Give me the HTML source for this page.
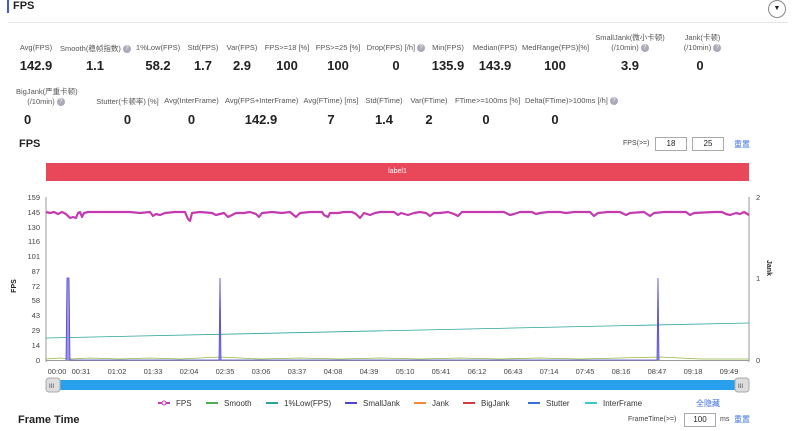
<!DOCTYPE html>
<html><head><meta charset="utf-8"><style>
body{margin:0;width:800px;height:431px;background:#fff;font-family:"Liberation Sans","Noto Sans CJK SC",sans-serif;position:relative;overflow:hidden;color:#222}
.a{position:absolute;white-space:nowrap}
.l{font-size:7.5px;color:#555;text-align:center}
.v{font-size:13px;font-weight:bold;color:#222;text-align:center}
.q{display:inline-block;width:8px;height:8px;border-radius:50%;background:#aab;color:#fff;font-size:6px;line-height:8px;text-align:center;vertical-align:middle}
.box{position:absolute;border:1px solid #aaa;height:12px;font-size:8px;text-align:center;line-height:12px}
</style></head><body>
<div class="a" style="left:7px;top:0;width:2px;height:13px;background:#3b5bdb"></div>
<div class="a" style="left:13px;top:0;font-size:11px;font-weight:bold">FPS</div>
<div class="a" style="left:8px;top:22px;width:780px;height:1px;background:#e5e5e5"></div>
<div class="a" style="left:768px;top:0;width:16px;height:16px;border:1px solid #888;border-radius:50%;font-size:7px;text-align:center;line-height:16px">▼</div>

<div class="a l" style="left:10px;top:43px;width:52px">Avg(FPS)</div><div class="a v" style="left:10px;top:58px;width:52px">142.9</div>
<div class="a l" style="left:60px;top:43px;width:70px">Smooth(稳帧指数) <span class="q">?</span></div><div class="a v" style="left:70px;top:58px;width:50px">1.1</div>
<div class="a l" style="left:133px;top:43px;width:50px">1%Low(FPS)</div><div class="a v" style="left:133px;top:58px;width:50px">58.2</div>
<div class="a l" style="left:183px;top:43px;width:40px">Std(FPS)</div><div class="a v" style="left:183px;top:58px;width:40px">1.7</div>
<div class="a l" style="left:222px;top:43px;width:40px">Var(FPS)</div><div class="a v" style="left:222px;top:58px;width:40px">2.9</div>
<div class="a l" style="left:262px;top:43px;width:50px">FPS&gt;=18 [%]</div><div class="a v" style="left:262px;top:58px;width:50px">100</div>
<div class="a l" style="left:313px;top:43px;width:50px">FPS&gt;=25 [%]</div><div class="a v" style="left:313px;top:58px;width:50px">100</div>
<div class="a l" style="left:366px;top:43px;width:60px">Drop(FPS) [/h] <span class="q">?</span></div><div class="a v" style="left:366px;top:58px;width:60px">0</div>
<div class="a l" style="left:428px;top:43px;width:40px">Min(FPS)</div><div class="a v" style="left:428px;top:58px;width:40px">135.9</div>
<div class="a l" style="left:470px;top:43px;width:50px">Median(FPS)</div><div class="a v" style="left:470px;top:58px;width:50px">143.9</div>
<div class="a l" style="left:522px;top:43px;width:66px">MedRange(FPS)[%]</div><div class="a v" style="left:522px;top:58px;width:66px">100</div>
<div class="a l" style="left:590px;top:33px;width:80px;line-height:10px">SmallJank(微小卡顿)<br>(/10min) <span class="q">?</span></div><div class="a v" style="left:590px;top:58px;width:50px;margin-left:15px">3.9</div>
<div class="a l" style="left:670px;top:33px;width:65px;line-height:10px">Jank(卡顿)<br>(/10min) <span class="q">?</span></div><div class="a v" style="left:670px;top:58px;width:60px">0</div>

<div class="a l" style="left:16px;top:87px;width:60px;line-height:10px;text-align:center">BigJank(严重卡顿)<br>(/10min) <span class="q">?</span></div><div class="a v" style="left:24px;top:112px;width:60px;text-align:left">0</div>
<div class="a l" style="left:95px;top:96px;width:65px">Stutter(卡顿率) [%]</div><div class="a v" style="left:95px;top:112px;width:65px">0</div>
<div class="a l" style="left:163px;top:96px;width:57px">Avg(InterFrame)</div><div class="a v" style="left:163px;top:112px;width:57px">0</div>
<div class="a l" style="left:225px;top:96px;width:72px">Avg(FPS+InterFrame)</div><div class="a v" style="left:225px;top:112px;width:72px">142.9</div>
<div class="a l" style="left:302px;top:96px;width:58px">Avg(FTime) [ms]</div><div class="a v" style="left:302px;top:112px;width:58px">7</div>
<div class="a l" style="left:363px;top:96px;width:42px">Std(FTime)</div><div class="a v" style="left:363px;top:112px;width:42px">1.4</div>
<div class="a l" style="left:408px;top:96px;width:42px">Var(FTime)</div><div class="a v" style="left:408px;top:112px;width:42px">2</div>
<div class="a l" style="left:455px;top:96px;width:62px">FTime&gt;=100ms [%]</div><div class="a v" style="left:455px;top:112px;width:62px">0</div>
<div class="a l" style="left:525px;top:96px;width:90px">Delta(FTime)&gt;100ms [/h] <span class="q">?</span></div><div class="a v" style="left:525px;top:112px;width:90px;margin-left:-15px">0</div>

<div class="a" style="left:19px;top:138px;font-size:11px;font-weight:bold">FPS</div>
<div class="a" style="left:623px;top:140px;font-size:7px;color:#444">FPS(&gt;=)</div>
<div class="box" style="left:655px;top:137px;width:30px">18</div>
<div class="box" style="left:692px;top:137px;width:30px">25</div>
<div class="a" style="left:734px;top:139px;font-size:8px;color:#3b6fe0">重置</div>
<div class="a" style="left:46px;top:163px;width:703px;height:18px;background:#e8485a;color:#fff;font-size:7px;text-align:center;line-height:18px">label1</div>

<svg class="a" style="left:0;top:0" width="800" height="431" font-family="Liberation Sans" font-size="7.5" fill="#444">
<g stroke="#999" stroke-width="1">
<line x1="46" y1="197" x2="46" y2="362"/><line x1="749" y1="197" x2="749" y2="362"/><line x1="46" y1="360.5" x2="749" y2="360.5"/>
</g>
<g text-anchor="end">
<text x="40" y="200">159</text><text x="40" y="215">145</text><text x="40" y="230">130</text><text x="40" y="244">116</text><text x="40" y="259">101</text><text x="40" y="274">87</text><text x="40" y="289">72</text><text x="40" y="303">58</text><text x="40" y="318">43</text><text x="40" y="333">29</text><text x="40" y="348">14</text><text x="40" y="363">0</text>
</g>
<text x="756" y="200">2</text><text x="756" y="281">1</text><text x="756" y="363">0</text>
<text transform="translate(16,286) rotate(-90)" font-weight="bold" fill="#222" font-size="7" text-anchor="middle">FPS</text>
<text transform="translate(767,268) rotate(90)" font-weight="bold" fill="#222" font-size="7" text-anchor="middle">Jank</text>
<g text-anchor="middle">
<text x="57" y="374">00:00</text><text x="81" y="374">00:31</text><text x="117" y="374">01:02</text><text x="153" y="374">01:33</text><text x="189" y="374">02:04</text><text x="225" y="374">02:35</text><text x="261" y="374">03:06</text><text x="297" y="374">03:37</text><text x="333" y="374">04:08</text><text x="369" y="374">04:39</text><text x="405" y="374">05:10</text><text x="441" y="374">05:41</text><text x="477" y="374">06:12</text><text x="513" y="374">06:43</text><text x="549" y="374">07:14</text><text x="585" y="374">07:45</text><text x="621" y="374">08:16</text><text x="657" y="374">08:47</text><text x="693" y="374">09:18</text><text x="729" y="374">09:49</text>
</g>
<line x1="46" y1="338" x2="749" y2="323" stroke="#2aa39a" stroke-width="0.8"/>
<polyline fill="none" stroke="#8fb83f" stroke-width="0.8" points="46,359 60,358 70,359 90,358 120,359 150,358 180,359 220,357 260,359 300,358 340,359 380,358 420,359 460,358 500,359 540,358 580,359 620,358 660,357 700,359 749,359"/>
<polyline fill="#9c95e6" stroke="#4b45d0" stroke-width="0.8" points="66,360 67,278 69,278 70,360 219,360 220,278 221,360 657,360 658,278 659,360"/>
<polyline fill="none" stroke="#c23cb0" stroke-width="2.2" stroke-linejoin="round" points="46,212 50,213 54,212 58,214 62,212 66,214 68,216 70,218 73,217 76,218 78,213 80,212 82,217 84,213 88,212 100,212 120,212 130,212 140,213 150,212 153,216 156,214 160,215 165,213 175,212 185,212 188,219 190,221 192,213 200,212 212,213 216,215 220,214 224,213 228,217 232,215 236,213 244,213 250,212 256,214 259,217 262,213 272,212 282,213 290,212 296,217 300,213 310,212 322,212 324,215 328,217 330,213 338,213 344,212 352,212 356,214 358,216 360,218 364,213 370,215 375,213 380,212 394,212 398,215 401,213 408,215 414,213 420,212 426,213 430,216 434,213 440,213 448,212 454,214 458,216 462,212 472,212 480,212 490,212 504,212 510,215 514,214 520,212 532,212 536,214 540,213 548,212 560,212 566,213 574,212 590,212 594,216 598,213 608,212 620,212 626,215 630,213 644,212 650,216 654,213 664,212 676,212 686,212 690,215 694,213 714,212 722,212 726,214 730,215 736,213 740,214 744,212 749,215"/>
<rect x="46" y="380" width="703" height="10" rx="2" fill="#29a0ec"/>
<rect x="46" y="378" width="14" height="14" rx="3" fill="#ddd" stroke="#aaa"/><text x="49" y="388" font-size="6">III</text>
<rect x="735" y="378" width="14" height="14" rx="3" fill="#ddd" stroke="#aaa"/><text x="738" y="388" font-size="6">III</text>
<g font-size="8" fill="#333">
<line x1="158" y1="403" x2="170" y2="403" stroke="#c23cb0" stroke-width="2"/><circle cx="164" cy="403" r="2" fill="#fff" stroke="#c23cb0"/><text x="176" y="406">FPS</text>
<line x1="206" y1="403" x2="218" y2="403" stroke="#4cae50" stroke-width="2"/><text x="224" y="406">Smooth</text>
<line x1="266" y1="403" x2="278" y2="403" stroke="#2aa39a" stroke-width="2"/><text x="284" y="406">1%Low(FPS)</text>
<line x1="345" y1="403" x2="357" y2="403" stroke="#4b45d0" stroke-width="2"/><text x="363" y="406">SmallJank</text>
<line x1="414" y1="403" x2="426" y2="403" stroke="#f08a3a" stroke-width="2"/><text x="432" y="406">Jank</text>
<line x1="463" y1="403" x2="475" y2="403" stroke="#d63a3a" stroke-width="2"/><text x="481" y="406">BigJank</text>
<line x1="528" y1="403" x2="540" y2="403" stroke="#3a6fd6" stroke-width="2"/><text x="546" y="406">Stutter</text>
<line x1="585" y1="403" x2="597" y2="403" stroke="#3cc8c8" stroke-width="2"/><text x="603" y="406">InterFrame</text>
<text x="696" y="406" fill="#3b6fe0">全隐藏</text>
</g>
</svg>
<div class="a" style="left:18px;top:414px;font-size:11px;font-weight:bold">Frame Time</div>
<div class="a" style="left:628px;top:416px;font-size:7px;color:#444">FrameTime(&gt;=)</div>
<div class="box" style="left:684px;top:413px;width:30px">100</div>
<div class="a" style="left:720px;top:416px;font-size:7px;color:#444">ms</div>
<div class="a" style="left:734px;top:414px;font-size:8px;color:#3b6fe0">重置</div>
</body></html>
